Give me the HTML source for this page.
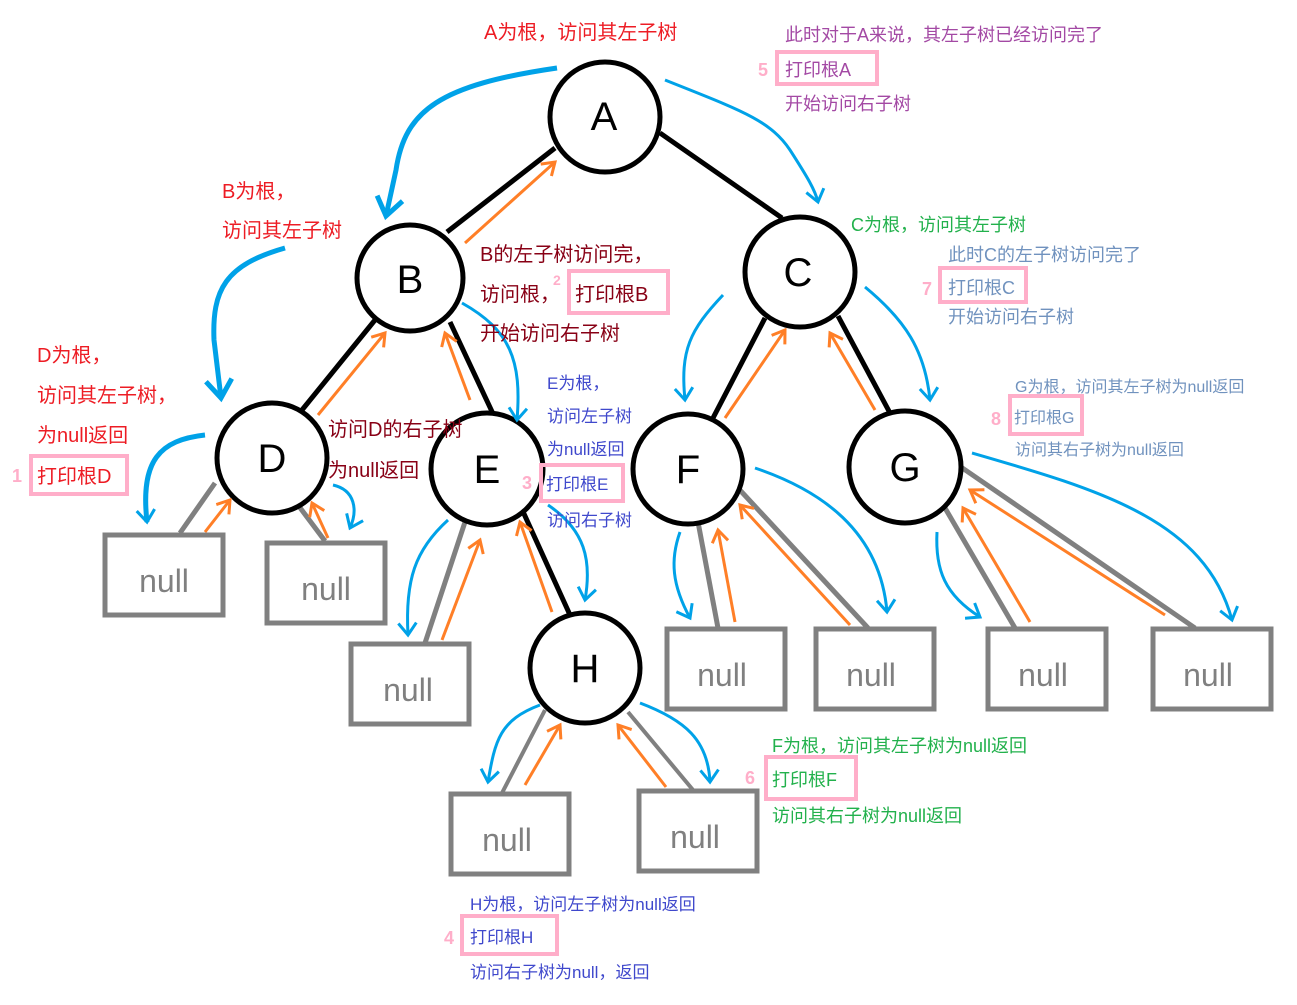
<!DOCTYPE html>
<html><head><meta charset="utf-8"><style>
html,body{margin:0;padding:0;background:#fff;}
svg{display:block;}
text{font-family:"Liberation Sans","Noto Sans CJK SC",sans-serif;}
</style></head><body>
<svg width="1297" height="1005" viewBox="0 0 1297 1005" xmlns="http://www.w3.org/2000/svg">
<defs>
<marker id="bh" markerUnits="userSpaceOnUse" markerWidth="30" markerHeight="30" viewBox="-15 -15 30 30" orient="auto" refX="0" refY="0"><path d="M-12,-9 L0,0 L-12,9" fill="none" stroke="#00a2e8" stroke-width="3"/></marker>
<marker id="bh2" markerUnits="userSpaceOnUse" markerWidth="40" markerHeight="40" viewBox="-20 -20 40 40" orient="auto" refX="0" refY="0"><path d="M-18,-13 L0,0 L-18,13" fill="none" stroke="#00a2e8" stroke-width="5"/></marker>
<marker id="oh" markerUnits="userSpaceOnUse" markerWidth="30" markerHeight="30" viewBox="-15 -15 30 30" orient="auto" refX="0" refY="0"><path d="M-12,-8 L0,0 L-12,8" fill="none" stroke="#ff7f27" stroke-width="3"/></marker>
</defs>

<!-- black edges -->
<g stroke="#000" stroke-width="5">
<line x1="555" y1="148" x2="447" y2="232"/>
<line x1="660" y1="133" x2="782" y2="218"/>
<line x1="375" y1="320" x2="302" y2="410"/>
<line x1="450" y1="322" x2="495" y2="418"/>
<line x1="765" y1="318" x2="713" y2="418"/>
<line x1="838" y1="316" x2="890" y2="413"/>
<line x1="520" y1="505" x2="570" y2="615"/>
</g>
<!-- gray edges -->
<g stroke="#808080" stroke-width="5">
<line x1="215" y1="483" x2="180" y2="533"/>
<line x1="298" y1="505" x2="325" y2="541"/>
<line x1="465" y1="522" x2="425" y2="643"/>
<line x1="698" y1="522" x2="718" y2="628"/>
<line x1="738" y1="488" x2="868" y2="628"/>
<line x1="945" y1="508" x2="1015" y2="628"/>
<line x1="958" y1="465" x2="1195" y2="628"/>
<line x1="545" y1="710" x2="502" y2="793" stroke-width="4"/>
<line x1="628" y1="712" x2="693" y2="790" stroke-width="4"/>
</g>

<!-- null boxes -->
<g fill="#fff" stroke="#808080" stroke-width="5">
<rect x="105" y="535" width="118" height="80"/>
<rect x="267" y="543" width="118" height="80"/>
<rect x="351" y="644" width="118" height="80"/>
<rect x="667" y="629" width="118" height="80"/>
<rect x="816" y="629" width="118" height="80"/>
<rect x="988" y="629" width="118" height="80"/>
<rect x="1153" y="629" width="118" height="80"/>
<rect x="451" y="794" width="118" height="80"/>
<rect x="639" y="791" width="118" height="80"/>
</g>
<g fill="#808080" font-size="32" text-anchor="middle">
<text x="164" y="592">null</text>
<text x="326" y="600">null</text>
<text x="408" y="701">null</text>
<text x="722" y="686">null</text>
<text x="871" y="686">null</text>
<text x="1043" y="686">null</text>
<text x="1208" y="686">null</text>
<text x="507" y="851">null</text>
<text x="695" y="848">null</text>
</g>

<!-- nodes -->
<g fill="#fff" stroke="#000" stroke-width="5">
<circle cx="605" cy="117" r="55"/>
<circle cx="410" cy="278" r="53"/>
<circle cx="800" cy="272" r="55"/>
<circle cx="272" cy="458" r="55"/>
<circle cx="487" cy="469" r="56"/>
<circle cx="688" cy="469" r="55"/>
<circle cx="905" cy="467" r="56"/>
<circle cx="585" cy="668" r="55"/>
</g>
<g fill="#000" font-size="40" text-anchor="middle">
<text x="604" y="130">A</text>
<text x="410" y="293">B</text>
<text x="798" y="286">C</text>
<text x="272" y="472">D</text>
<text x="487" y="483">E</text>
<text x="688" y="483">F</text>
<text x="905" y="481">G</text>
<text x="585" y="682">H</text>
</g>

<!-- blue curves -->
<g fill="none" stroke="#00a2e8" stroke-width="5">
<path d="M557,68 C440,85 405,110 396,170 L386,216" marker-end="url(#bh2)"/>
<path d="M285,248 C225,265 212,290 214,340 L221,398" marker-end="url(#bh2)"/>
<path d="M205,435 C160,440 140,460 147,522" marker-end="url(#bh)"/>
</g>
<g fill="none" stroke="#00a2e8" stroke-width="3">
<path d="M333,485 C355,490 358,510 350,528" marker-end="url(#bh)"/>
<path d="M462,303 C510,330 522,360 517,420" marker-end="url(#bh)"/>
<path d="M448,520 C415,550 405,580 408,635" marker-end="url(#bh)"/>
<path d="M548,505 C585,530 592,560 585,600" marker-end="url(#bh)"/>
<path d="M665,80 C740,110 770,120 790,150 C808,178 815,190 818,202" marker-end="url(#bh)"/>
<path d="M723,295 C690,330 680,350 685,400" marker-end="url(#bh)"/>
<path d="M865,287 C905,320 925,350 930,400" marker-end="url(#bh)"/>
<path d="M680,532 C670,560 672,585 690,618" marker-end="url(#bh)"/>
<path d="M755,468 C820,490 880,530 887,612" marker-end="url(#bh)"/>
<path d="M937,532 C935,570 945,595 980,617" marker-end="url(#bh)"/>
<path d="M972,453 C1100,490 1205,520 1232,620" marker-end="url(#bh)"/>
<path d="M540,705 C500,720 495,740 488,782" marker-end="url(#bh)"/>
<path d="M640,703 C685,720 708,740 710,782" marker-end="url(#bh)"/>
</g>

<!-- orange arrows -->
<g stroke="#ff7f27" stroke-width="3" marker-end="url(#oh)">
<line x1="465" y1="243" x2="555" y2="162"/>
<line x1="318" y1="415" x2="385" y2="333"/>
<line x1="470" y1="400" x2="445" y2="333"/>
<line x1="205" y1="532" x2="230" y2="500"/>
<line x1="328" y1="538" x2="312" y2="503"/>
<line x1="442" y1="640" x2="480" y2="540"/>
<line x1="552" y1="612" x2="520" y2="522"/>
<line x1="725" y1="418" x2="785" y2="330"/>
<line x1="875" y1="410" x2="830" y2="333"/>
<line x1="735" y1="622" x2="718" y2="530"/>
<line x1="850" y1="625" x2="740" y2="505"/>
<line x1="1030" y1="622" x2="963" y2="508"/>
<line x1="1165" y1="615" x2="970" y2="490"/>
<line x1="525" y1="785" x2="560" y2="725"/>
<line x1="666" y1="787" x2="618" y2="725"/>
</g>

<!-- pink boxes -->
<g fill="none" stroke="#ffaec9" stroke-width="4">
<rect x="777" y="52" width="100" height="32"/>
<rect x="569" y="271" width="99" height="42"/>
<rect x="31" y="456" width="96" height="38"/>
<rect x="541" y="465" width="82" height="36"/>
<rect x="940" y="268" width="86" height="34"/>
<rect x="1010" y="396" width="72" height="38"/>
<rect x="766" y="757" width="90" height="42"/>
<rect x="462" y="916" width="95" height="38"/>
</g>
<g fill="#ffaec9" font-weight="bold">
<text x="758" y="76" font-size="18">5</text>
<text x="553" y="285" font-size="14">2</text>
<text x="12" y="482" font-size="18">1</text>
<text x="522" y="489" font-size="18">3</text>
<text x="922" y="295" font-size="18">7</text>
<text x="991" y="425" font-size="18">8</text>
<text x="745" y="784" font-size="18">6</text>
<text x="444" y="944" font-size="18">4</text>
</g>

<!-- labels -->
<g fill="#ed1c24" font-size="20">
<text x="484" y="39">A为根，访问其左子树</text>
<text x="222" y="198">B为根，</text>
<text x="222" y="237">访问其左子树</text>
<text x="37" y="362">D为根，</text>
<text x="37" y="402">访问其左子树，</text>
<text x="37" y="442">为null返回</text>
<text x="37" y="483">打印根D</text>
</g>
<g fill="#a349a4" font-size="18">
<text x="785" y="41">此时对于A来说，其左子树已经访问完了</text>
<text x="785" y="76">打印根A</text>
<text x="785" y="110">开始访问右子树</text>
</g>
<g fill="#880015" font-size="20">
<text x="480" y="261">B的左子树访问完，</text>
<text x="480" y="301">访问根，</text>
<text x="575" y="301">打印根B</text>
<text x="480" y="340">开始访问右子树</text>
<text x="328" y="436">访问D的右子树</text>
<text x="328" y="477">为null返回</text>
</g>
<g fill="#3f48cc" font-size="17">
<text x="547" y="389">E为根，</text>
<text x="547" y="422">访问左子树</text>
<text x="547" y="455">为null返回</text>
<text x="546" y="490">打印根E</text>
<text x="547" y="526">访问右子树</text>
<text x="470" y="910">H为根，访问左子树为null返回</text>
<text x="470" y="943">打印根H</text>
<text x="470" y="978">访问右子树为null，返回</text>
</g>
<g fill="#22b14c" font-size="18">
<text x="851" y="231">C为根，访问其左子树</text>
<text x="772" y="752">F为根，访问其左子树为null返回</text>
<text x="772" y="786">打印根F</text>
<text x="772" y="822">访问其右子树为null返回</text>
</g>
<g fill="#7092be" font-size="18">
<text x="948" y="261">此时C的左子树访问完了</text>
<text x="948" y="294">打印根C</text>
<text x="948" y="323">开始访问右子树</text>
</g>
<g fill="#7092be" font-size="16">
<text x="1015" y="392">G为根，访问其左子树为null返回</text>
<text x="1014" y="423">打印根G</text>
<text x="1015" y="455">访问其右子树为null返回</text>
</g>
</svg>
</body></html>
